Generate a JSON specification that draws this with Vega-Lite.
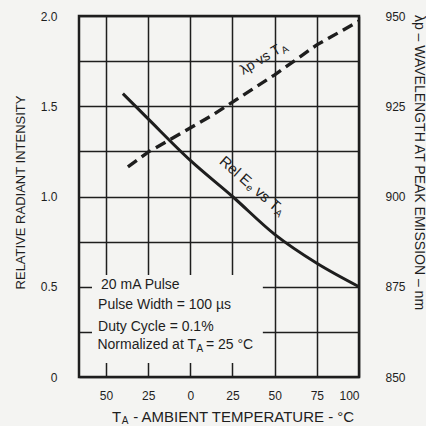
{
  "$schema": "https://vega.github.io/schema/vega-lite/v6.json",
  "width": 280,
  "height": 361,
  "autosize": {"type": "none"},
  "padding": {"left": 79, "top": 16, "right": 67, "bottom": 49},
  "background": "#f4f4f2",
  "config": {
    "view": {"stroke": "#1e1e1e", "strokeWidth": 2.5},
    "font": "Liberation Sans",
    "text": {"font": "Liberation Sans", "color": "#1e1e1e"},
    "axis": {
      "labelFont": "Liberation Sans",
      "titleFont": "Liberation Sans",
      "labelColor": "#1e1e1e",
      "titleColor": "#1e1e1e",
      "gridColor": "#1e1e1e",
      "gridOpacity": 1,
      "gridWidth": 1.5,
      "domain": false,
      "ticks": false,
      "titleFontWeight": "normal",
      "labelFontSize": 12
    }
  },
  "datasets": {
    "intensity": [
      {"T": -40, "rel": 1.57},
      {"T": -25, "rel": 1.43},
      {"T": 0, "rel": 1.2},
      {"T": 25, "rel": 1.0},
      {"T": 50, "rel": 0.79},
      {"T": 75, "rel": 0.63},
      {"T": 100, "rel": 0.5}
    ],
    "wavelength": [
      {"T": -37, "nm": 908.2},
      {"T": -25, "nm": 912.3},
      {"T": 13, "nm": 922.5},
      {"T": 50, "nm": 933.7},
      {"T": 75, "nm": 942.0},
      {"T": 100, "nm": 948.6}
    ],
    "one": [{}]
  },
  "layer": [
    {
      "layer": [
        {
          "data": {"name": "one"},
          "mark": {"type": "rect", "fill": "#f4f4f2"},
          "encoding": {
            "x": {"datum": -58.3, "type": "quantitative", "scale": {"domain": [-66, 100]}},
            "x2": {"datum": 43},
            "y": {"datum": 0.078, "type": "quantitative"},
            "y2": {"datum": 0.565}
          }
        },
        {
          "data": {"name": "intensity"},
          "mark": {"type": "line", "color": "#1e1e1e", "strokeWidth": 3, "interpolate": "monotone"},
          "encoding": {
            "x": {
              "field": "T",
              "type": "quantitative",
              "scale": {"domain": [-66, 100], "nice": false, "zero": false},
              "axis": {
                "values": [-50, -25, 0, 25, 50, 75, 100],
                "grid": true,
                "title": null,
                "labelPadding": 13,
                "labelExpr": "datum.value < 0 ? format(-datum.value, 'd') : format(datum.value, 'd')"
              }
            },
            "y": {
              "field": "rel",
              "type": "quantitative",
              "scale": {"domain": [0, 2], "nice": false},
              "axis": {
                "values": [0, 0.25, 0.5, 0.75, 1, 1.25, 1.5, 1.75, 2],
                "grid": true,
                "labelPadding": 22,
                "labelExpr": "datum.value == 0 ? '0' : ((datum.value * 2) % 1 == 0 ? format(datum.value, '.1f') : '')",
                "title": "RELATIVE RADIANT INTENSITY",
                "titleFontSize": 13,
                "titleAngle": -90,
                "titleX": -59,
                "titleY": 176,
                "titleAlign": "center",
                "titleBaseline": "middle"
              }
            }
          }
        },
        {
          "data": {"name": "one"},
          "mark": {"type": "text", "text": "20 mA Pulse", "align": "left", "baseline": "middle", "fontSize": 14, "dx": 3},
          "encoding": {"x": {"datum": -54.7}, "y": {"datum": 0.51}}
        },
        {
          "data": {"name": "one"},
          "mark": {"type": "text", "text": "Pulse Width = 100 µs", "align": "left", "baseline": "middle", "fontSize": 14},
          "encoding": {"x": {"datum": -54.7}, "y": {"datum": 0.399}}
        },
        {
          "data": {"name": "one"},
          "mark": {"type": "text", "text": "Duty Cycle = 0.1%", "align": "left", "baseline": "middle", "fontSize": 14},
          "encoding": {"x": {"datum": -54.7}, "y": {"datum": 0.277}}
        },
        {
          "data": {"name": "one"},
          "mark": {"type": "text", "text": "Normalized at T", "align": "right", "baseline": "middle", "fontSize": 14},
          "encoding": {"x": {"datum": 3.35}, "y": {"datum": 0.177}}
        },
        {
          "data": {"name": "one"},
          "mark": {"type": "text", "text": "A", "align": "left", "baseline": "middle", "fontSize": 10, "dx": 0.5, "dy": 4},
          "encoding": {"x": {"datum": 3.35}, "y": {"datum": 0.177}}
        },
        {
          "data": {"name": "one"},
          "mark": {"type": "text", "text": "= 25 °C", "align": "left", "baseline": "middle", "fontSize": 14, "dx": 10},
          "encoding": {"x": {"datum": 3.35}, "y": {"datum": 0.177}}
        },
        {
          "data": {"name": "one"},
          "mark": {"type": "text", "text": "T", "align": "right", "baseline": "middle", "fontSize": 15},
          "encoding": {"x": {"datum": -41}, "y": {"datum": -0.22}}
        },
        {
          "data": {"name": "one"},
          "mark": {"type": "text", "text": "A", "align": "left", "baseline": "middle", "fontSize": 10, "dx": 0.5, "dy": 4},
          "encoding": {"x": {"datum": -41}, "y": {"datum": -0.22}}
        },
        {
          "data": {"name": "one"},
          "mark": {"type": "text", "text": "-  AMBIENT TEMPERATURE  -  °C", "align": "left", "baseline": "middle", "fontSize": 15, "dx": 12},
          "encoding": {"x": {"datum": -41}, "y": {"datum": -0.22}}
        },
        {
          "data": {"name": "one"},
          "mark": {"type": "text", "text": "λp vs T", "align": "right", "baseline": "middle", "fontSize": 14, "angle": -31},
          "encoding": {"x": {"datum": 53}, "y": {"datum": 1.82}}
        },
        {
          "data": {"name": "one"},
          "mark": {"type": "text", "text": "A", "align": "left", "baseline": "middle", "fontSize": 10, "angle": -31, "dx": 0.5, "dy": 4},
          "encoding": {"x": {"datum": 53}, "y": {"datum": 1.82}}
        },
        {
          "data": {"name": "one"},
          "mark": {"type": "text", "text": "Rel E", "align": "right", "baseline": "middle", "fontSize": 15, "angle": 41},
          "encoding": {"x": {"datum": 35}, "y": {"datum": 1.075}}
        },
        {
          "data": {"name": "one"},
          "mark": {"type": "text", "text": "e", "align": "left", "baseline": "middle", "fontSize": 10, "angle": 41, "dx": 0.5, "dy": 4},
          "encoding": {"x": {"datum": 35}, "y": {"datum": 1.075}}
        },
        {
          "data": {"name": "one"},
          "mark": {"type": "text", "text": "vs T", "align": "left", "baseline": "middle", "fontSize": 15, "angle": 41, "dx": 10},
          "encoding": {"x": {"datum": 35}, "y": {"datum": 1.075}}
        },
        {
          "data": {"name": "one"},
          "mark": {"type": "text", "text": "A", "align": "left", "baseline": "middle", "fontSize": 10, "angle": 41, "dx": 38.5, "dy": 4},
          "encoding": {"x": {"datum": 35}, "y": {"datum": 1.075}}
        }
      ]
    },
    {
      "data": {"name": "wavelength"},
      "mark": {"type": "line", "color": "#1e1e1e", "strokeWidth": 3.4, "strokeDash": [11, 6]},
      "encoding": {
        "x": {"field": "T", "type": "quantitative"},
        "y": {
          "field": "nm",
          "type": "quantitative",
          "scale": {"domain": [850, 950], "nice": false, "zero": false},
          "axis": {
            "orient": "right",
            "values": [850, 875, 900, 925, 950],
            "grid": false,
            "labelPadding": 26,
            "labelAlign": "left",
            "title": "λp – WAVELENGTH AT PEAK EMISSION – nm",
            "titleFontSize": 14,
            "titleAngle": 90,
            "titleX": 59,
            "titleY": 146,
            "titleAlign": "center",
            "titleBaseline": "middle"
          }
        }
      }
    }
  ],
  "resolve": {"scale": {"y": "independent"}}
}
